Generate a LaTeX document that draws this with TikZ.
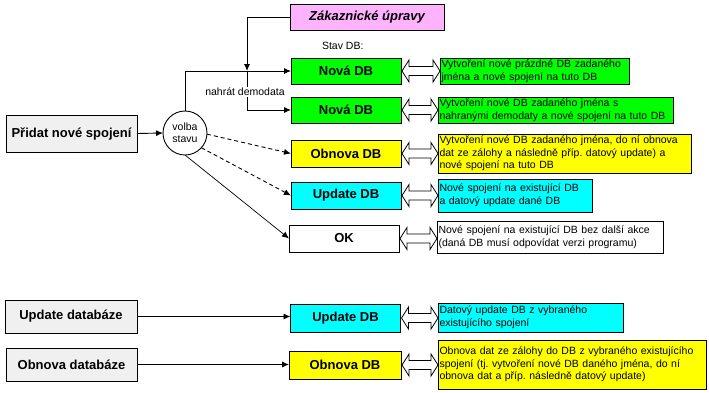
\documentclass[tikz,border=0pt]{standalone}
\usepackage{fontspec}
\setmainfont{Liberation Sans}
\usetikzlibrary{arrows.meta,calc}
\definecolor{pinkc}{HTML}{FFB3FF}
\definecolor{grayc}{HTML}{F0F0F0}
\definecolor{greenc}{HTML}{00FF00}
\definecolor{yellowc}{HTML}{FFFF00}
\definecolor{cyanc}{HTML}{00FFFF}
\frenchspacing
\newcommand\dblarr[2]{%
  \draw[dblar] let \p1=(#1.east), \p2=(#2.west) in
    (\x1+1pt,\y1) -- (\x1+8pt,\y1+11pt) -- (\x1+8pt,\y1+4.5pt) -- (\x2-7pt,\y1+4.5pt)
    -- (\x2-7pt,\y1+11pt) -- (\x2,\y1) -- (\x2-7pt,\y1-11pt) -- (\x2-7pt,\y1-4.5pt)
    -- (\x1+8pt,\y1-4.5pt) -- (\x1+8pt,\y1-11pt) -- cycle;}
\begin{document}
\begin{tikzpicture}[x=1pt,y=-1pt,
  every node/.style={inner sep=0pt,outer sep=0pt},
  box/.style={draw=black,line width=0.9pt,minimum height=26pt,minimum width=110pt,
    font=\fontsize{13}{15}\selectfont\bfseries},
  desc/.style 2 args={draw=black,line width=0.9pt,anchor=north west,text width=#1pt,
    minimum height=#2pt,inner xsep=1.5pt,inner ysep=0.5pt,align=left,
    font=\fontsize{10.5}{12.7}\selectfont\frenchspacing},
  lbl/.style={font=\fontsize{10.5}{12.7}\selectfont},
  conn/.style={line width=0.9pt,-{Latex[length=7pt,width=6pt]}},
  dconn/.style={conn,dash pattern=on 4pt off 3pt},
  dblar/.style={draw=black,fill=white,line width=0.8pt}
]
\useasboundingbox (0,0) rectangle (709,392);

% left boxes
\node[box,fill=grayc,minimum width=131pt,minimum height=37pt] (pridat) at (71.5,133.5) {Přidat nové spojení};
\node[box,fill=grayc,minimum width=132pt,minimum height=33pt] (upddat) at (71,316.5) {Update databáze};
\node[box,fill=grayc,minimum width=131pt,minimum height=33pt] (obndat) at (71.5,364.5) {Obnova databáze};

% circle
\node[circle,draw=black,line width=0.9pt,minimum size=44pt,align=center,
  font=\fontsize{10.5}{12}\selectfont] (circ) at (185,133) {volba\\stavu};

% top
\node[box,fill=pinkc,minimum width=154pt,font=\fontsize{13}{15}\selectfont\bfseries\itshape] (zak) at (367,17) {Zákaznické úpravy};
\node[lbl,anchor=west] (stav) at (322,46) {Stav DB:};

% state boxes
\node[box,fill=greenc] (nova1) at (346,71) {Nová DB};
\node[box,fill=greenc] (nova2) at (346,110) {Nová DB};
\node[box,fill=yellowc,minimum height=27pt] (obnova) at (346,153.5) {Obnova DB};
\node[box,fill=cyanc,minimum height=27pt] (update) at (346,195.5) {Update DB};
\node[box,fill=white,minimum height=27pt] (ok) at (344,238.5) {OK};
\node[box,fill=cyanc,minimum height=28pt] (update2) at (345.5,318) {Update DB};
\node[box,fill=yellowc,minimum height=28pt,minimum width=112pt] (obnova2) at (345,365) {Obnova DB};

% descriptions
\node[desc={186}{26},fill=greenc] (d1) at (440,58) {Vytvoření nové prázdné DB zadaného\\jména a nové spojení na tuto DB};
\node[desc={232}{26},fill=greenc] (d2) at (438,97) {Vytvoření nové DB zadaného jména s\\nahranými demodaty a nové spojení na tuto DB};
\node[desc={250}{39},fill=yellowc] (d3) at (438,134) {Vytvoření nové DB zadaného jména, do ní obnova\\dat ze zálohy a následně příp. datový update) a\\nové spojení na tuto DB};
\node[desc={151}{33},fill=cyanc] (d4) at (438,179) {Nové spojení na existující DB\\a datový update dané DB};
\node[desc={223}{32},fill=white] (d5) at (437,221) {Nové spojení na existující DB bez další akce\\(daná DB musí odpovídat verzi programu)};
\node[desc={182}{29},fill=cyanc] (d6) at (438,303) {Datový update DB z vybraného\\existujícího spojení};
\node[desc={265}{49},fill=yellowc] (d7) at (438,340) {Obnova dat ze zálohy do DB z vybraného existujícího\\spojení (tj. vytvoření nové DB daného jména, do ní\\obnova dat a příp. následně datový update)};

% connectors
\coordinate (jn) at (247,71);
\draw[conn] (pridat.east) -- (circ.west);
\draw[conn] (circ.north) |- (nova1.west);
\draw[conn] (zak.west) -| (jn);
\draw[conn] (jn) |- (nova2.west);
\node[lbl,fill=white,inner sep=1pt] (demo) at (245,92) {nahrát demodata};
\draw[dconn] (circ.-3) -- (obnova.west);
\draw[dconn] (circ.-42) -- (update.west);
\draw[conn,line width=0.7pt] (circ.south) -- (ok.west);
\draw[conn] (upddat.east) -- (upddat.east -| update2.west);
\draw[conn] (obndat.east) -- (obndat.east -| obnova2.west);

% double arrows
\dblarr{nova1}{d1}
\dblarr{nova2}{d2}
\dblarr{obnova}{d3}
\dblarr{update}{d4}
\dblarr{ok}{d5}
\dblarr{update2}{d6}
\dblarr{obnova2}{d7}
\end{tikzpicture}
\end{document}
